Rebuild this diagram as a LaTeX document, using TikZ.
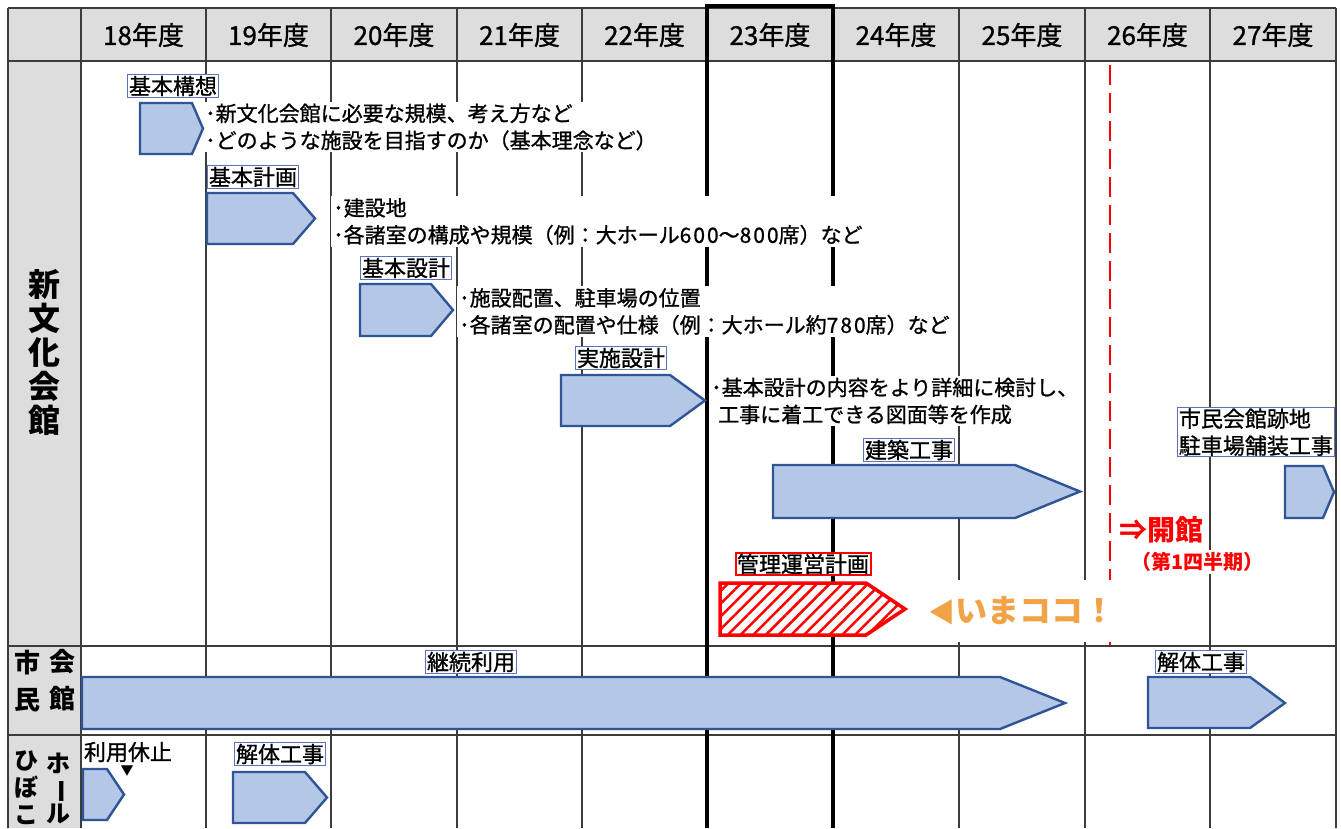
\documentclass[tikz,border=0pt]{standalone}
\usepackage{fontspec}
\setmainfont{Noto Sans CJK JP}
\newfontfamily\medjp{Noto Sans CJK JP}[RawFeature={embolden=1.0}]
\usetikzlibrary{patterns.meta}
\definecolor{barfill}{RGB}{180,199,231}
\definecolor{barline}{RGB}{47,85,151}
\definecolor{gridc}{RGB}{60,60,60}
\definecolor{hdr}{RGB}{221,221,221}
\definecolor{lblline}{RGB}{95,115,185}
\definecolor{orng}{RGB}{240,163,71}
\begin{document}
\begin{tikzpicture}[x=1pt,y=-1pt,
  bar/.style={fill=barfill, draw=barline, line width=2.4pt, line join=miter},
  redbar/.style={draw=red, line width=3.5pt, line join=miter, preaction={fill=white},
    pattern={Lines[angle=45,distance=9pt,line width=2.5pt]}, pattern color=red},
  lbl/.style={draw=lblline, line width=0.8pt, fill=white, inner xsep=1.5pt, inner ysep=1pt,
    font=\medjp\fontsize{22}{25}\selectfont},
  desc/.style={fill=white, inner sep=2pt, align=left, anchor=west, font=\medjp\fontsize{21}{27}\selectfont},
  yr/.style={font=\medjp\fontsize{26}{28}\selectfont},
  side/.style 2 args={align=center, font=\bfseries\fontsize{#1}{#2}\selectfont},
  gridl/.style={draw=gridc, line width=1.4pt},
  thickl/.style={draw=black, line width=4pt, line join=miter}]
\useasboundingbox (0,0) rectangle (1341,828);
\fill[white] (0,0) rectangle (1341,828);
% gray header and side column
\fill[hdr] (8,8) rectangle (1336,61);
\fill[hdr] (8,61) rectangle (81,828);
% grid
\foreach \x in {8,81,206,331,457,582,959,1085,1210,1336}
  \draw[gridl] (\x,8) -- (\x,828);
\foreach \y in {8,61,646,735}
  \draw[gridl] (8,\y) -- (1336,\y);
\draw[thickl] (707,828) -- (707,6) -- (833,6) -- (833,828);
\draw[red, line width=2.5pt, dash pattern=on 20pt off 8pt] (1110,65) -- (1110,645);
% header
\foreach \x/\t in {143.5/18,268.5/19,394/20,519.5/21,644.5/22,770/23,896/24,1022/25,1147.5/26,1273/27}
  \node[yr] (y\t) at (\x,35) {\t 年度};
% side labels
\node[side={32}{34}] (shin) at (44,352) {新\\文\\化\\会\\館};
\node[side={26}{37}] (shimin) at (27,681) {市\\民};
\node[side={26}{37}] (kaikan) at (62,680) {会\\館};
\node[side={24}{27}] (hibo) at (26,788) {ひ\\ぼ\\こ};
\node[side={24}{25}] (hall) at (58,788) {ホ\\\rotatebox[origin=c]{-90}{ー}\\ル};
% descriptions
\node[desc] (d1) at (203,127) {･新文化会館に必要な規模、考え方など\\･どのような施設を目指すのか（基本理念など）};
\node[desc] (d2) at (331,221.5) {･建設地\\･各諸室の構成や規模（例：大ホール6\kern2pt0\kern2pt0～8\kern2pt0\kern2pt0席）など};
\node[desc] (d3) at (457,311.5) {･施設配置、駐車場の位置\\･各諸室の配置や仕様（例：大ホール約7\kern2pt8\kern2pt0席）など};
\node[desc] (d4) at (709,401) {･基本設計の内容をより詳細に検討し、\\\hspace*{7pt}工事に着工できる図面等を作成};
% bars
\draw[bar] (140,103) -- (192,103) -- (203,128.5) -- (192,154) -- (140,154) -- cycle;
\draw[bar] (207,193) -- (293,193) -- (315,218.5) -- (293,244) -- (207,244) -- cycle;
\draw[bar] (360,284) -- (431,284) -- (453,310) -- (431,336) -- (360,336) -- cycle;
\draw[bar] (561,375) -- (670,375) -- (705,400.5) -- (670,426) -- (561,426) -- cycle;
\draw[bar] (773,465) -- (1015,465) -- (1080,491.5) -- (1015,518) -- (773,518) -- cycle;
\draw[bar] (1285,466) -- (1323,466) -- (1334,492) -- (1323,518) -- (1285,518) -- cycle;
\draw[redbar] (720,583) -- (866,583) -- (905,609) -- (866,635) -- (720,635) -- cycle;
\draw[bar] (82,677) -- (1000,677) -- (1065,703) -- (1000,729) -- (82,729) -- cycle;
\draw[bar] (1148,677) -- (1250,677) -- (1285,703) -- (1250,728) -- (1148,728) -- cycle;
\draw[bar] (83,769) -- (107,769) -- (124,794.5) -- (107,820) -- (83,820) -- cycle;
\draw[bar] (233,772) -- (305,772) -- (327,797.5) -- (305,823) -- (233,823) -- cycle;
% labels
\node[lbl] (kk) at (173,86) {基本構想};
\node[lbl] (kkei) at (253,177) {基本計画};
\node[lbl] (ksek) at (406,268) {基本設計};
\node[lbl] (jsek) at (621,358) {実施設計};
\node[lbl] (kenc) at (909,450) {建築工事};
\node[lbl, draw=red, line width=2pt] (kanri) at (803,564) {管理運営計画};
\node[lbl] (keiz) at (471,662) {継続利用};
\node[lbl] (kait1) at (1201,662) {解体工事};
\node[lbl] (kait2) at (280,754) {解体工事};
\node[font=\medjp\fontsize{22}{25}\selectfont] (kyushi) at (128,752) {利用休止};
\node[font=\fontsize{13}{13}\selectfont, inner sep=0pt] (tri) at (127,771) {▼};
\node[lbl, align=left, anchor=north west, font=\medjp\fontsize{22}{27}\selectfont] (atochi) at (1177,407) {市民会館跡地\\駐車場舗装工事};
% opening
\node[fill=white, anchor=west, inner sep=2pt, text=red, font=\fontsize{28}{30}\selectfont\bfseries] (kaikan2) at (1117,530) {⇒開館};
\node[fill=white, anchor=west, inner sep=2pt, text=red, font=\fontsize{20}{22}\selectfont\bfseries] (q1) at (1129,562) {（第1四半期）};
% now here
\node[fill=white, anchor=west, inner xsep=15pt, minimum height=62pt, text=orng,
  font=\fontsize{32}{36}\selectfont\bfseries] (ima) at (913,611) {{\fontsize{27}{27}\selectfont ◀}いまココ！};
\end{tikzpicture}
\end{document}
